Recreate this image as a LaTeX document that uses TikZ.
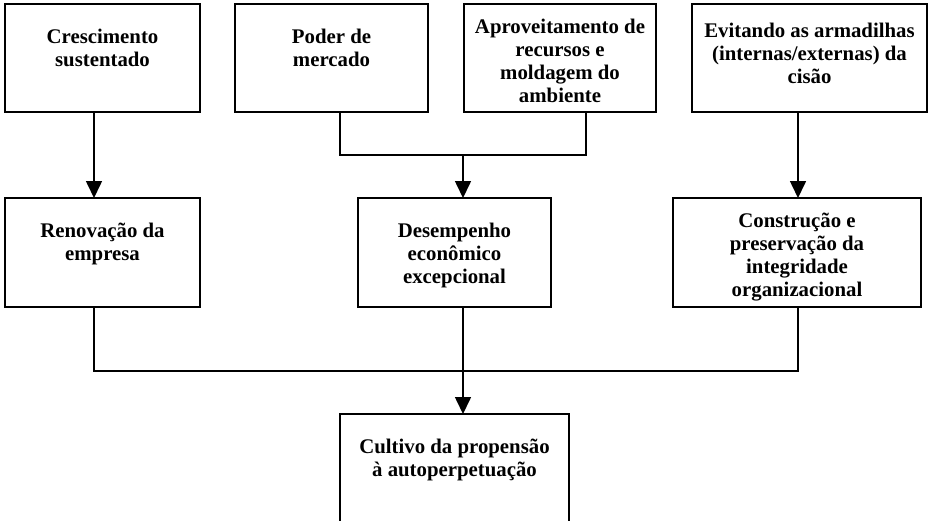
\documentclass[tikz,border=0pt]{standalone}
\usepackage{fontspec}
\setmainfont{Liberation Serif}
\usetikzlibrary{arrows.meta}
% #1 width, #2 height, #3 first-baseline offset, #4 text
\newcommand{\bxtext}[4]{\parbox[c][#2][t]{#1}{\centering\bfseries\fontsize{20.8pt}{23pt}\selectfont\rule{0pt}{#3}#4\par}}
\tikzset{
  box/.style={draw, line width=1.6pt, inner sep=0pt, outer sep=0pt},
  conn/.style={line width=1.6pt},
  arr/.style={line width=1.6pt, -{Triangle[width=16pt,length=17pt]}}
}
\begin{document}
\begin{tikzpicture}[x=1pt,y=-1pt]
\useasboundingbox (0,0) rectangle (936,520);
\clip (0,0) rectangle (936,520);
\fill[white] (0,0) rectangle (936,520);
% top row
\node[box] (b1) at (102.5,58) {\bxtext{195pt}{108pt}{39pt}{Crescimento\\sustentado}};
\node[box] (b2) at (331.5,58) {\bxtext{193pt}{108pt}{39pt}{Poder de\\mercado}};
\node[box] (b3) at (560,58) {\bxtext{192pt}{108pt}{29pt}{Aproveitamento de\\recursos e\\moldagem do\\ambiente}};
\node[box] (b4) at (809.5,58) {\bxtext{235pt}{108pt}{33pt}{Evitando as armadilhas\\(internas/externas) da\\cisão}};
% middle row
\node[box] (m1) at (102.5,252.5) {\bxtext{195pt}{109pt}{39pt}{Renovação da\\empresa}};
\node[box] (m2) at (454.5,252.5) {\bxtext{193pt}{109pt}{39pt}{Desempenho\\econômico\\excepcional}};
\node[box] (m3) at (797,252.5) {\bxtext{248pt}{109pt}{29pt}{Construção e\\preservação da\\integridade\\organizacional}};
% bottom
\node[box] (c) at (454.5,474) {\bxtext{229pt}{120pt}{39pt}{Cultivo da propensão\\à autoperpetuação}};
% junction coordinates
\coordinate (j1) at (463,155);
\coordinate (j2) at (463,371);
% connectors
\draw[arr] (b1.south -| 94,0) -- (m1.north -| 94,0);
\draw[conn] (b2.south -| 340,0) |- (j1);
\draw[conn] (b3.south -| 586,0) |- (j1);
\draw[arr] (j1) -- (m2.north -| j1);
\draw[arr] (b4.south -| 798,0) -- (m3.north -| 798,0);
\draw[conn] (m1.south -| 94,0) |- (j2);
\draw[conn] (m3.south -| 798,0) |- (j2);
\draw[conn] (m2.south -| j2) -- (j2);
\draw[arr] (j2) -- (c.north -| j2);
\end{tikzpicture}
\end{document}
